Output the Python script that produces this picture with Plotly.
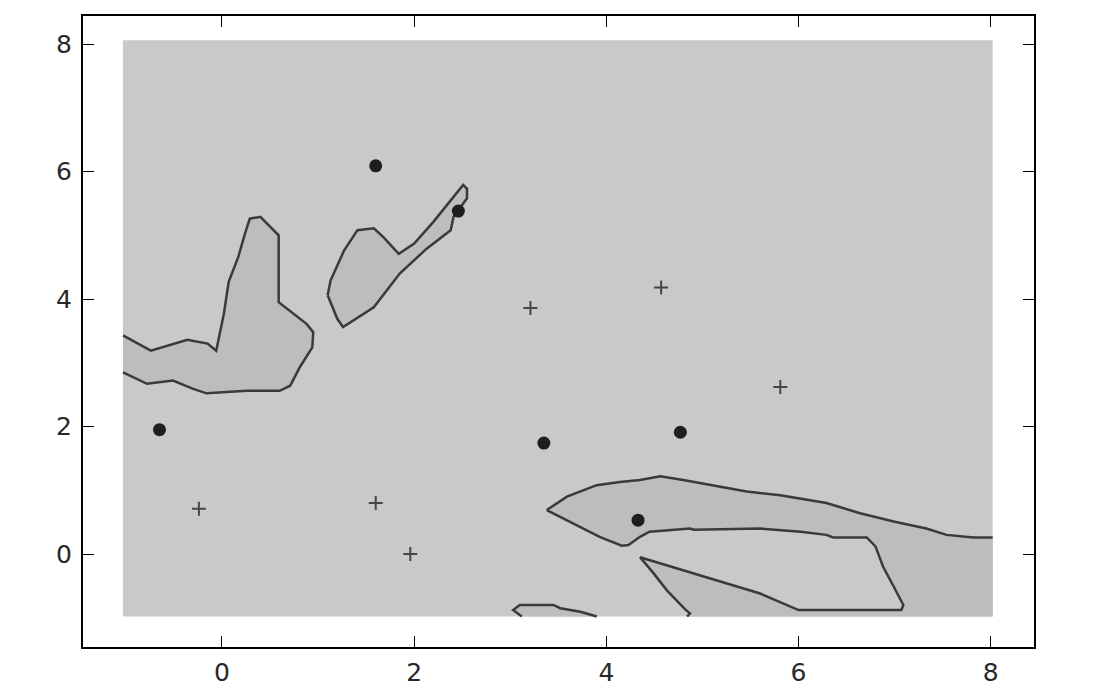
import plotly.graph_objects as go

# extent of the evaluated grid (the shaded rectangle)
grid_x = [-1.03, 8.02]
grid_y = [-0.98, 8.06]

# regions where the decision function is on the other side (darker grey),
# outlines
left_region_x = [-1.03, -0.74, -0.36, -0.15, -0.06, 0.02, 0.07, 0.17, 0.24, 0.29, 0.40, 0.52, 0.59,
                 0.59, 0.88, 0.95, 0.94, 0.81, 0.71, 0.60, 0.26, -0.16, -0.30, -0.51, -0.78, -1.03]
left_region_y = [3.43, 3.19, 3.36, 3.30, 3.19, 3.77, 4.27, 4.66, 5.03, 5.26, 5.29, 5.11, 5.00,
                 3.95, 3.61, 3.48, 3.24, 2.93, 2.64, 2.56, 2.56, 2.52, 2.59, 2.72, 2.67, 2.85]

mid_region_x = [1.10, 1.13, 1.27, 1.41, 1.58, 1.68, 1.84, 2.00, 2.20, 2.41, 2.51, 2.55, 2.55,
                2.41, 2.38, 2.13, 1.85, 1.58, 1.37, 1.26, 1.20]
mid_region_y = [4.06, 4.29, 4.76, 5.08, 5.11, 4.97, 4.71, 4.87, 5.21, 5.60, 5.79, 5.73, 5.58,
                5.29, 5.08, 4.79, 4.40, 3.87, 3.66, 3.56, 3.69]

right_region_x = [3.38, 3.59, 3.90, 4.14, 4.35, 4.56, 4.80, 5.11, 5.46, 5.81, 6.02, 6.29, 6.64,
                  6.99, 7.33, 7.54, 7.82, 8.02, 8.02, 4.84, 4.87, 4.82, 4.63, 4.49, 4.35, 5.60,
                  5.81, 6.00, 7.07, 7.09, 6.99, 6.88, 6.80, 6.71, 6.36, 6.29, 6.02, 5.74, 5.60,
                  4.91, 4.87, 4.45, 4.35, 4.23, 4.16, 3.93, 3.66, 3.45]
right_region_y = [0.69, 0.90, 1.08, 1.13, 1.16, 1.22, 1.16, 1.08, 0.98, 0.92, 0.87, 0.80, 0.64,
                  0.51, 0.40, 0.30, 0.26, 0.26, -0.98, -0.98, -0.93, -0.87, -0.57, -0.30, -0.05, -0.62,
                  -0.75, -0.88, -0.88, -0.80, -0.51, -0.20, 0.12, 0.26, 0.26, 0.30, 0.35, 0.38, 0.40,
                  0.38, 0.40, 0.35, 0.27, 0.14, 0.13, 0.27, 0.48, 0.64]

low_region_x = [3.12, 3.03, 3.10, 3.45, 3.52, 3.73, 3.90]
low_region_y = [-0.98, -0.88, -0.80, -0.80, -0.85, -0.905, -0.98]

regions = [
    (left_region_x, left_region_y),
    (mid_region_x, mid_region_y),
    (right_region_x, right_region_y),
    (low_region_x, low_region_y),
]

# training points
circles_x = [1.60, 2.46, -0.65, 3.35, 4.77, 4.33]
circles_y = [6.09, 5.38, 1.95, 1.74, 1.91, 0.53]
plus_x = [3.21, 4.57, 5.81, -0.24, 1.60, 1.96]
plus_y = [3.86, 4.18, 2.62, 0.71, 0.80, 0.00]

tick_vals = [0, 2, 4, 6, 8]

light = "rgb(201,201,201)"
dark = "rgb(189,189,189)"
line_col = "rgb(58,58,58)"


def on_border(x, y):
    return (abs(x - grid_x[0]) < 1e-9 or abs(x - grid_x[1]) < 1e-9
            or abs(y - grid_y[0]) < 1e-9 or abs(y - grid_y[1]) < 1e-9)


def contour_path(xs, ys):
    # closed outline, but no stroke where the outline runs along the grid edge
    px = [xs[0]]
    py = [ys[0]]
    pts = list(zip(xs, ys)) + [(xs[0], ys[0])]
    for (x0, y0), (x1, y1) in zip(pts[:-1], pts[1:]):
        if on_border(x0, y0) and on_border(x1, y1):
            px.append(None)
            py.append(None)
        px.append(x1)
        py.append(y1)
    return px, py


fig = go.Figure()

fig.add_trace(go.Scatter(
    x=[grid_x[0], grid_x[1], grid_x[1], grid_x[0]],
    y=[grid_y[0], grid_y[0], grid_y[1], grid_y[1]],
    fill="toself", fillcolor=light, mode="lines", line=dict(width=0),
    hoverinfo="skip", showlegend=False))

for xs, ys in regions:
    fig.add_trace(go.Scatter(x=xs, y=ys, fill="toself", fillcolor=dark, mode="lines",
                             line=dict(width=0), hoverinfo="skip", showlegend=False))

for xs, ys in regions:
    cx, cy = contour_path(xs, ys)
    fig.add_trace(go.Scatter(x=cx, y=cy, mode="lines", line=dict(color=line_col, width=2.5),
                             connectgaps=False, hoverinfo="skip", showlegend=False))

fig.add_trace(go.Scatter(x=circles_x, y=circles_y, mode="markers",
                         marker=dict(symbol="circle", size=13, color="rgb(30,30,30)"),
                         showlegend=False))
fig.add_trace(go.Scatter(x=plus_x, y=plus_y, mode="markers",
                         marker=dict(symbol="cross-thin", size=10,
                                     line=dict(width=2, color="rgb(70,70,70)")),
                         showlegend=False))

axis_style = dict(
    showgrid=False, zeroline=False, automargin=False,
    showline=True, linecolor="black", linewidth=2, mirror="ticks",
    ticks="inside", ticklen=11, tickwidth=1, tickcolor="black",
    tickvals=tick_vals,
    tickfont=dict(family="DejaVu Sans", size=25, color="rgb(40,40,40)"),
)

fig.update_xaxes(range=[-1.446, 8.45], ticklabelstandoff=2, **axis_style)
fig.update_yaxes(range=[-1.459, 8.44], ticklabelstandoff=4, **axis_style)

# the page adds an 8px body margin, so the figure is a bit smaller than the window
fig.update_layout(
    width=1079, height=681,
    margin=dict(l=75, r=53, t=8, b=42),
    plot_bgcolor="white", paper_bgcolor="white",
)

fig.write_html("out.html")
